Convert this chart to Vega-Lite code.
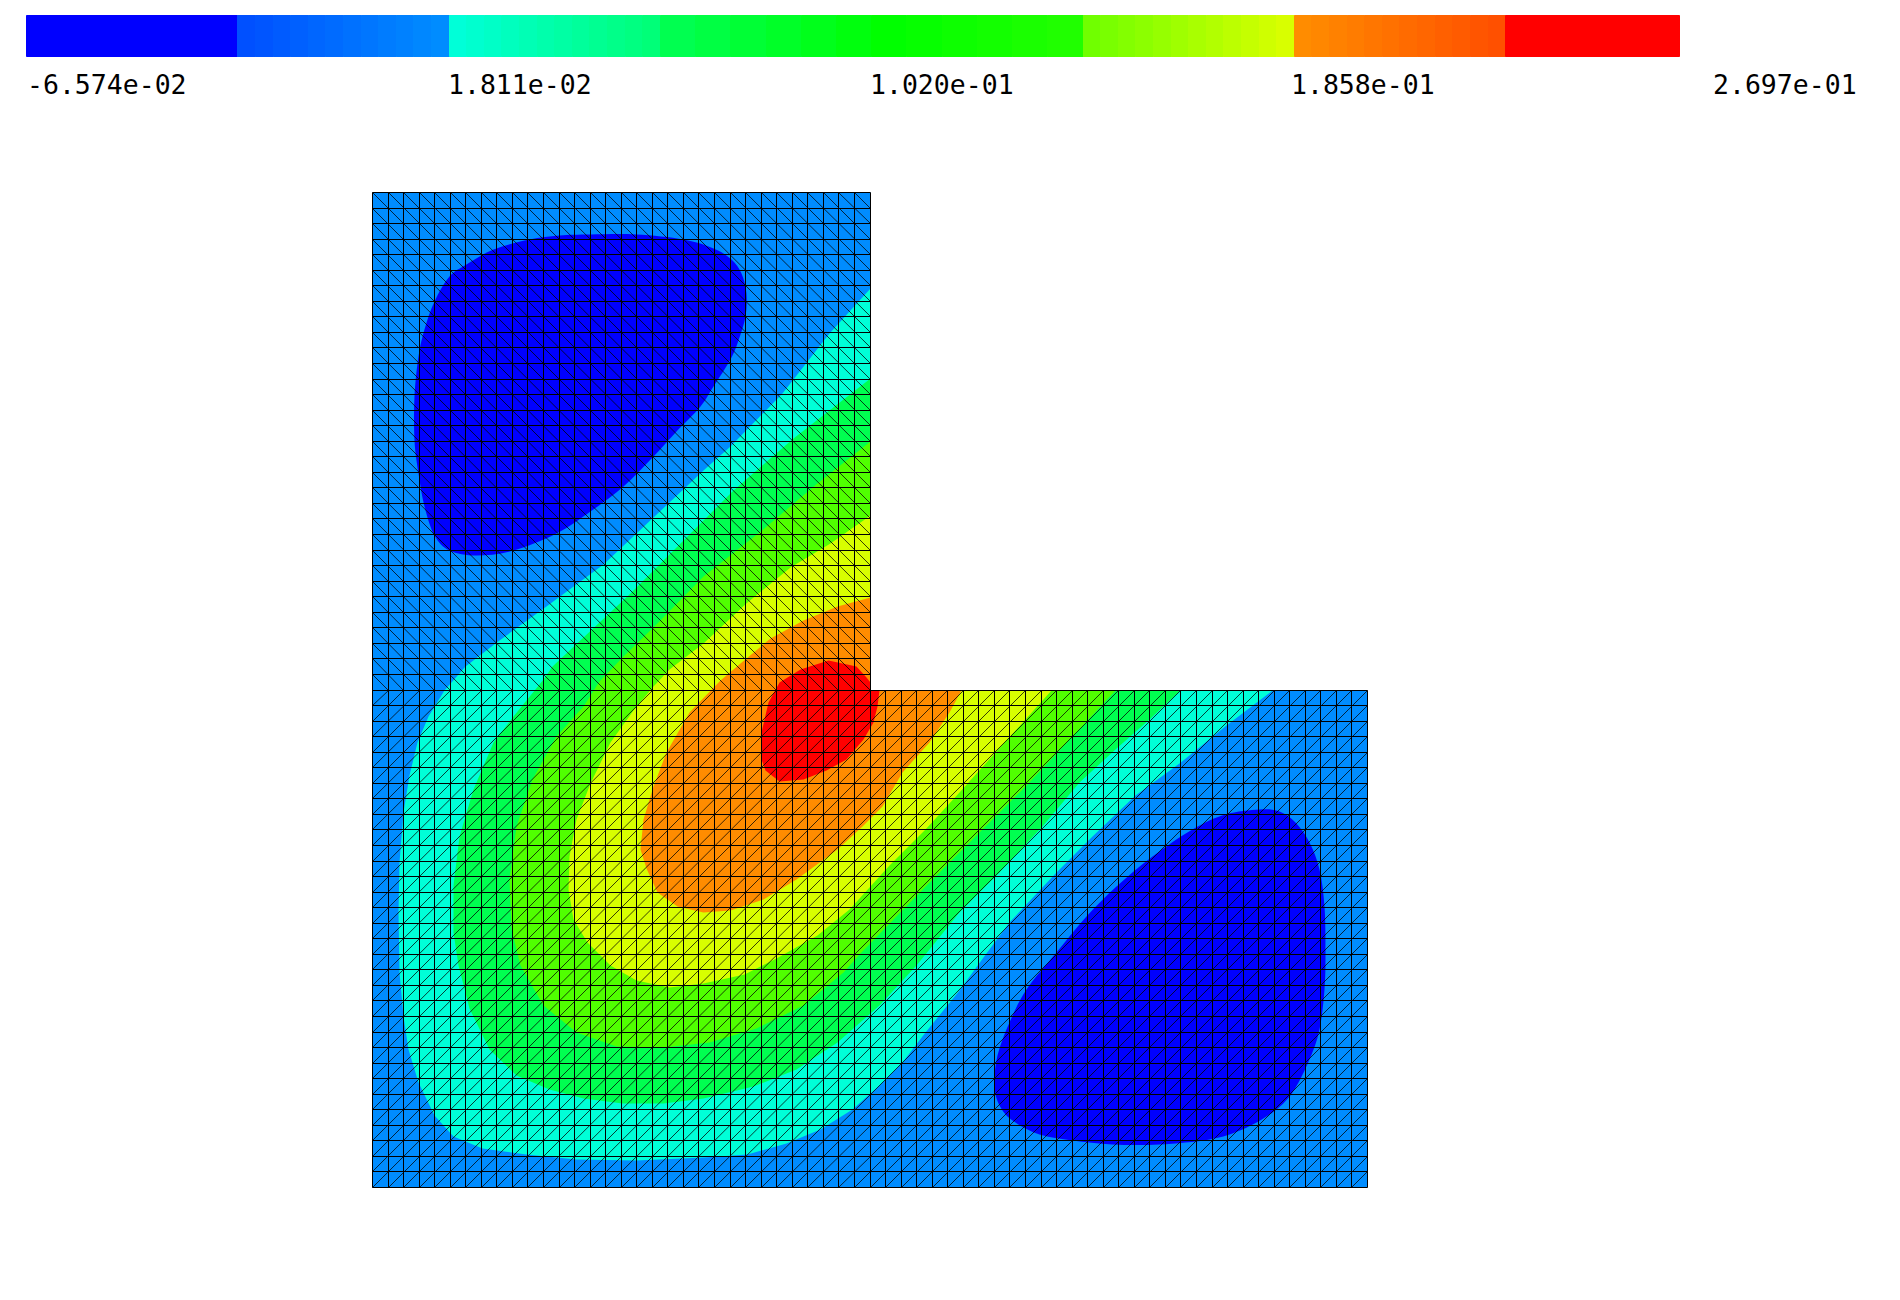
{"$schema":"https://vega.github.io/schema/vega-lite/v6.json","background":"white","padding":{"left":25.5,"top":14.5,"right":0,"bottom":0},"config":{"view":{"stroke":null}},"spacing":92,"resolve":{"scale":{"fill":"independent"}},
"datasets":{
"bar":[{"lo":-0.06574,"hi":-0.0237},{"lo":-0.0237,"hi":-0.0202},{"lo":-0.0202,"hi":-0.01669},{"lo":-0.01669,"hi":-0.01319},{"lo":-0.01319,"hi":-0.00969},{"lo":-0.00969,"hi":-0.00618},{"lo":-0.00618,"hi":-0.00268},{"lo":-0.00268,"hi":0.00082},{"lo":0.00082,"hi":0.00433},{"lo":0.00433,"hi":0.00783},{"lo":0.00783,"hi":0.01133},{"lo":0.01133,"hi":0.01484},{"lo":0.01484,"hi":0.01834},{"lo":0.01834,"hi":0.02184},{"lo":0.02184,"hi":0.02535},{"lo":0.02535,"hi":0.02885},{"lo":0.02885,"hi":0.03235},{"lo":0.03235,"hi":0.03586},{"lo":0.03586,"hi":0.03936},{"lo":0.03936,"hi":0.04286},{"lo":0.04286,"hi":0.04637},{"lo":0.04637,"hi":0.04987},{"lo":0.04987,"hi":0.05337},{"lo":0.05337,"hi":0.05688},{"lo":0.05688,"hi":0.06038},{"lo":0.06038,"hi":0.06739},{"lo":0.06739,"hi":0.0744},{"lo":0.0744,"hi":0.0814},{"lo":0.0814,"hi":0.08841},{"lo":0.08841,"hi":0.09541},{"lo":0.09541,"hi":0.10242},{"lo":0.10242,"hi":0.10943},{"lo":0.10943,"hi":0.11644},{"lo":0.11644,"hi":0.12344},{"lo":0.12344,"hi":0.13045},{"lo":0.13045,"hi":0.13745},{"lo":0.13745,"hi":0.14446},{"lo":0.14446,"hi":0.14796},{"lo":0.14796,"hi":0.15147},{"lo":0.15147,"hi":0.15497},{"lo":0.15497,"hi":0.15847},{"lo":0.15847,"hi":0.16198},{"lo":0.16198,"hi":0.16548},{"lo":0.16548,"hi":0.16898},{"lo":0.16898,"hi":0.17249},{"lo":0.17249,"hi":0.17599},{"lo":0.17599,"hi":0.17949},{"lo":0.17949,"hi":0.183},{"lo":0.183,"hi":0.1865},{"lo":0.1865,"hi":0.19},{"lo":0.19,"hi":0.19351},{"lo":0.19351,"hi":0.19701},{"lo":0.19701,"hi":0.20051},{"lo":0.20051,"hi":0.20402},{"lo":0.20402,"hi":0.20752},{"lo":0.20752,"hi":0.21102},{"lo":0.21102,"hi":0.21453},{"lo":0.21453,"hi":0.21803},{"lo":0.21803,"hi":0.22153},{"lo":0.22153,"hi":0.22504},{"lo":0.22504,"hi":0.22854},{"lo":0.22854,"hi":0.2631}],
"bands":[
{"r":"blue","o":1,"x":0,"y":0},{"r":"blue","o":2,"x":32,"y":0},{"r":"blue","o":3,"x":32,"y":32},{"r":"blue","o":4,"x":64,"y":32},{"r":"blue","o":5,"x":64,"y":64},{"r":"blue","o":6,"x":0,"y":64},
{"r":"cyan","o":1,"x":32,"y":6.2},{"r":"cyan","o":2,"x":29.4,"y":9.05},{"r":"cyan","o":3,"x":26.4,"y":12.9},{"r":"cyan","o":4,"x":23,"y":16.35},{"r":"cyan","o":5,"x":21.3,"y":17.85},{"r":"cyan","o":6,"x":18.1,"y":20.9},{"r":"cyan","o":7,"x":14.85,"y":23.9},{"r":"cyan","o":8,"x":11.2,"y":26.6},{"r":"cyan","o":9,"x":8.2,"y":28.8},{"r":"cyan","o":10,"x":6,"y":30.5},{"r":"cyan","o":11,"x":4.6,"y":32},{"r":"cyan","o":12,"x":3.6,"y":33.7},{"r":"cyan","o":13,"x":2.9,"y":35.4},{"r":"cyan","o":14,"x":2.4,"y":37.5},{"r":"cyan","o":15,"x":1.97,"y":39.9},{"r":"cyan","o":16,"x":1.76,"y":43.1},{"r":"cyan","o":17,"x":1.7,"y":46.3},{"r":"cyan","o":18,"x":1.76,"y":50.2},{"r":"cyan","o":19,"x":1.97,"y":52.97},{"r":"cyan","o":20,"x":2.3,"y":55.1},{"r":"cyan","o":21,"x":2.94,"y":57.25},{"r":"cyan","o":22,"x":4,"y":59.4},{"r":"cyan","o":23,"x":5.2,"y":60.7},{"r":"cyan","o":24,"x":7.1,"y":61.5},{"r":"cyan","o":25,"x":9.9,"y":61.85},{"r":"cyan","o":26,"x":13.1,"y":62.2},{"r":"cyan","o":27,"x":17,"y":62.25},{"r":"cyan","o":28,"x":21.3,"y":62.07},{"r":"cyan","o":29,"x":24.1,"y":61.85},{"r":"cyan","o":30,"x":26.65,"y":61.2},{"r":"cyan","o":31,"x":28.8,"y":60.25},{"r":"cyan","o":32,"x":30.9,"y":58.96},{"r":"cyan","o":33,"x":32.6,"y":57.46},{"r":"cyan","o":34,"x":34.1,"y":55.97},{"r":"cyan","o":35,"x":35.6,"y":54},{"r":"cyan","o":36,"x":37.75,"y":51.3},{"r":"cyan","o":37,"x":39.3,"y":49.2},{"r":"cyan","o":38,"x":40.97,"y":46.97},{"r":"cyan","o":39,"x":43.97,"y":43.75},{"r":"cyan","o":40,"x":46.3,"y":41.4},{"r":"cyan","o":41,"x":49.1,"y":38.8},{"r":"cyan","o":42,"x":51.9,"y":36.7},{"r":"cyan","o":43,"x":54.9,"y":34.3},{"r":"cyan","o":44,"x":57.9,"y":32},{"r":"cyan","o":45,"x":32,"y":32},
{"r":"spring","o":1,"x":32,"y":11.95},{"r":"spring","o":2,"x":27.1,"y":15.8},{"r":"spring","o":3,"x":23.2,"y":19.15},{"r":"spring","o":4,"x":21.3,"y":21.1},{"r":"spring","o":5,"x":16.6,"y":25.8},{"r":"spring","o":6,"x":13.6,"y":28.6},{"r":"spring","o":7,"x":11.6,"y":30.5},{"r":"spring","o":8,"x":11,"y":31.33},{"r":"spring","o":9,"x":9.05,"y":33.7},{"r":"spring","o":10,"x":7.77,"y":35.4},{"r":"spring","o":11,"x":6.5,"y":38.4},{"r":"spring","o":12,"x":5.6,"y":41.4},{"r":"spring","o":13,"x":5.2,"y":44.6},{"r":"spring","o":14,"x":5.2,"y":47.6},{"r":"spring","o":15,"x":5.5,"y":49.75},{"r":"spring","o":16,"x":6.27,"y":52.5},{"r":"spring","o":17,"x":7.55,"y":55.1},{"r":"spring","o":18,"x":9.27,"y":56.8},{"r":"spring","o":19,"x":11.4,"y":57.7},{"r":"spring","o":20,"x":13.56,"y":58.3},{"r":"spring","o":21,"x":16.1,"y":58.6},{"r":"spring","o":22,"x":18.7,"y":58.6},{"r":"spring","o":23,"x":21.3,"y":58.3},{"r":"spring","o":24,"x":24.5,"y":57.5},{"r":"spring","o":25,"x":27.3,"y":56.4},{"r":"spring","o":26,"x":29.9,"y":54.7},{"r":"spring","o":27,"x":32.6,"y":52.3},{"r":"spring","o":28,"x":34.97,"y":49.75},{"r":"spring","o":29,"x":37.76,"y":46.3},{"r":"spring","o":30,"x":40.3,"y":43.75},{"r":"spring","o":31,"x":43.1,"y":40.76},{"r":"spring","o":32,"x":45.5,"y":37.97},{"r":"spring","o":33,"x":47.8,"y":35.8},{"r":"spring","o":34,"x":50,"y":33.9},{"r":"spring","o":35,"x":52,"y":32},{"r":"spring","o":36,"x":32,"y":32},
{"r":"lime","o":1,"x":32,"y":16},{"r":"lime","o":2,"x":28.6,"y":18.7},{"r":"lime","o":3,"x":24.9,"y":21.9},{"r":"lime","o":4,"x":21.3,"y":24.7},{"r":"lime","o":5,"x":18.3,"y":27.7},{"r":"lime","o":6,"x":16.1,"y":29.9},{"r":"lime","o":7,"x":14.6,"y":31.45},{"r":"lime","o":8,"x":13.56,"y":33.04},{"r":"lime","o":9,"x":11.85,"y":34.97},{"r":"lime","o":10,"x":10.3,"y":37.76},{"r":"lime","o":11,"x":9.27,"y":40.76},{"r":"lime","o":12,"x":8.84,"y":44.2},{"r":"lime","o":13,"x":8.95,"y":47.4},{"r":"lime","o":14,"x":9.5,"y":49.75},{"r":"lime","o":15,"x":11,"y":52.3},{"r":"lime","o":16,"x":13.1,"y":54},{"r":"lime","o":17,"x":15.7,"y":54.9},{"r":"lime","o":18,"x":18.7,"y":55},{"r":"lime","o":19,"x":21.7,"y":54.7},{"r":"lime","o":20,"x":24.7,"y":53.8},{"r":"lime","o":21,"x":27.7,"y":52.3},{"r":"lime","o":22,"x":30.3,"y":50.2},{"r":"lime","o":23,"x":31.33,"y":49},{"r":"lime","o":24,"x":33.5,"y":46.75},{"r":"lime","o":25,"x":36,"y":44.2},{"r":"lime","o":26,"x":38.8,"y":41.4},{"r":"lime","o":27,"x":42,"y":38.2},{"r":"lime","o":28,"x":45,"y":35},{"r":"lime","o":29,"x":47.8,"y":32},{"r":"lime","o":30,"x":32,"y":32},
{"r":"yellow","o":1,"x":32,"y":20.75},{"r":"yellow","o":2,"x":29.45,"y":22.6},{"r":"yellow","o":3,"x":26.9,"y":24.1},{"r":"yellow","o":4,"x":24.1,"y":26.4},{"r":"yellow","o":5,"x":21.3,"y":29},{"r":"yellow","o":6,"x":19.1,"y":30.7},{"r":"yellow","o":7,"x":18.07,"y":31.76},{"r":"yellow","o":8,"x":16.8,"y":33.3},{"r":"yellow","o":9,"x":15.3,"y":35.4},{"r":"yellow","o":10,"x":14,"y":38},{"r":"yellow","o":11,"x":13.1,"y":40.3},{"r":"yellow","o":12,"x":12.7,"y":42.7},{"r":"yellow","o":13,"x":12.6,"y":44.8},{"r":"yellow","o":14,"x":12.9,"y":46.75},{"r":"yellow","o":15,"x":13.8,"y":48.25},{"r":"yellow","o":16,"x":15.3,"y":49.75},{"r":"yellow","o":17,"x":17,"y":50.7},{"r":"yellow","o":18,"x":19.1,"y":51.15},{"r":"yellow","o":19,"x":21.3,"y":50.9},{"r":"yellow","o":20,"x":23.9,"y":50.3},{"r":"yellow","o":21,"x":26,"y":49.3},{"r":"yellow","o":22,"x":28.6,"y":47.8},{"r":"yellow","o":23,"x":30.7,"y":46.1},{"r":"yellow","o":24,"x":33.26,"y":43.3},{"r":"yellow","o":25,"x":35.6,"y":41},{"r":"yellow","o":26,"x":37.75,"y":38.6},{"r":"yellow","o":27,"x":40.1,"y":36.05},{"r":"yellow","o":28,"x":42,"y":33.9},{"r":"yellow","o":29,"x":43.65,"y":32},{"r":"yellow","o":30,"x":32,"y":32},
{"r":"orange","o":1,"x":32,"y":26.05},{"r":"orange","o":2,"x":29.9,"y":26.65},{"r":"orange","o":3,"x":27.7,"y":27.5},{"r":"orange","o":4,"x":25.6,"y":28.7},{"r":"orange","o":5,"x":23.65,"y":30.3},{"r":"orange","o":6,"x":22.4,"y":31.4},{"r":"orange","o":7,"x":20.4,"y":33.47},{"r":"orange","o":8,"x":18.9,"y":36},{"r":"orange","o":9,"x":18.07,"y":38.2},{"r":"orange","o":10,"x":17.4,"y":40.3},{"r":"orange","o":11,"x":17.25,"y":42.25},{"r":"orange","o":12,"x":17.6,"y":43.5},{"r":"orange","o":13,"x":18.3,"y":45},{"r":"orange","o":14,"x":19.6,"y":45.9},{"r":"orange","o":15,"x":21.3,"y":46.3},{"r":"orange","o":16,"x":23,"y":46.2},{"r":"orange","o":17,"x":25.15,"y":45.5},{"r":"orange","o":18,"x":27.3,"y":44.2},{"r":"orange","o":19,"x":29.9,"y":42.25},{"r":"orange","o":20,"x":31.5,"y":40.8},{"r":"orange","o":21,"x":32.83,"y":39.47},{"r":"orange","o":22,"x":34.1,"y":37.33},{"r":"orange","o":23,"x":35.8,"y":35.4},{"r":"orange","o":24,"x":37.1,"y":33.47},{"r":"orange","o":25,"x":37.86,"y":32},{"r":"orange","o":26,"x":32,"y":32},
{"r":"red","o":1,"x":29.3,"y":30.1},{"r":"red","o":2,"x":31.1,"y":30.47},{"r":"red","o":3,"x":31.76,"y":31.2},{"r":"red","o":4,"x":32,"y":31.5},{"r":"red","o":5,"x":32,"y":32},{"r":"red","o":6,"x":32.6,"y":32},{"r":"red","o":7,"x":32.5,"y":33.04},{"r":"red","o":8,"x":32.2,"y":34.1},{"r":"red","o":9,"x":31.55,"y":35.2},{"r":"red","o":10,"x":30.5,"y":36.5},{"r":"red","o":11,"x":29.2,"y":37.2},{"r":"red","o":12,"x":27.7,"y":37.75},{"r":"red","o":13,"x":26.2,"y":37.9},{"r":"red","o":14,"x":25.3,"y":37.2},{"r":"red","o":15,"x":25,"y":36.5},{"r":"red","o":16,"x":25,"y":34.75},{"r":"red","o":17,"x":25.45,"y":32.8},{"r":"red","o":18,"x":26.2,"y":31.5},{"r":"red","o":19,"x":27.5,"y":30.7}
],
"blobs":[
{"r":"a","o":1,"x":13.99,"y":2.68},{"r":"a","o":2,"x":17,"y":2.73},{"r":"a","o":3,"x":20,"y":3.05},{"r":"a","o":4,"x":21.93,"y":3.58},{"r":"a","o":5,"x":23.1,"y":4.33},{"r":"a","o":6,"x":23.76,"y":5.19},{"r":"a","o":7,"x":24.08,"y":6.48},{"r":"a","o":8,"x":23.97,"y":7.98},{"r":"a","o":9,"x":23.54,"y":9.49},{"r":"a","o":10,"x":23,"y":10.77},{"r":"a","o":11,"x":21.93,"y":12.49},{"r":"a","o":12,"x":21.07,"y":13.78},{"r":"a","o":13,"x":19.57,"y":15.39},{"r":"a","o":14,"x":18.07,"y":17},{"r":"a","o":15,"x":16.14,"y":18.93},{"r":"a","o":16,"x":13.99,"y":20.54},{"r":"a","o":17,"x":11.85,"y":21.93},{"r":"a","o":18,"x":9.06,"y":23},{"r":"a","o":19,"x":6.7,"y":23.33},{"r":"a","o":20,"x":4.98,"y":23},{"r":"a","o":21,"x":4.01,"y":22.04},{"r":"a","o":22,"x":3.37,"y":20.21},{"r":"a","o":23,"x":2.94,"y":18.07},{"r":"a","o":24,"x":2.73,"y":15.92},{"r":"a","o":25,"x":2.73,"y":13.13},{"r":"a","o":26,"x":2.94,"y":10.56},{"r":"a","o":27,"x":3.37,"y":8.84},{"r":"a","o":28,"x":4.01,"y":7.02},{"r":"a","o":29,"x":4.98,"y":5.41},{"r":"a","o":30,"x":6.05,"y":4.66},{"r":"a","o":31,"x":7.77,"y":3.69},{"r":"a","o":32,"x":10.13,"y":3.05},{"r":"a","o":33,"x":12.06,"y":2.79},
{"r":"b","o":1,"x":57.04,"y":39.68},{"r":"b","o":2,"x":58.32,"y":39.79},{"r":"b","o":3,"x":59.39,"y":40.54},{"r":"b","o":4,"x":60.25,"y":41.83},{"r":"b","o":5,"x":60.89,"y":43.54},{"r":"b","o":6,"x":61.21,"y":45.9},{"r":"b","o":7,"x":61.32,"y":48.9},{"r":"b","o":8,"x":61.21,"y":51.25},{"r":"b","o":9,"x":60.89,"y":53.82},{"r":"b","o":10,"x":60.25,"y":55.75},{"r":"b","o":11,"x":59.18,"y":57.89},{"r":"b","o":12,"x":57.89,"y":59.18},{"r":"b","o":13,"x":55.97,"y":60.25},{"r":"b","o":14,"x":53.82,"y":60.89},{"r":"b","o":15,"x":50.61,"y":61.21},{"r":"b","o":16,"x":47.61,"y":61.26},{"r":"b","o":17,"x":45.04,"y":61},{"r":"b","o":18,"x":42.9,"y":60.57},{"r":"b","o":19,"x":41.18,"y":59.71},{"r":"b","o":20,"x":40.33,"y":58.75},{"r":"b","o":21,"x":40,"y":57.46},{"r":"b","o":22,"x":40.22,"y":55.54},{"r":"b","o":23,"x":40.97,"y":53.4},{"r":"b","o":24,"x":42.04,"y":51.25},{"r":"b","o":25,"x":43.97,"y":48.9},{"r":"b","o":26,"x":45.9,"y":46.54},{"r":"b","o":27,"x":47.83,"y":44.61},{"r":"b","o":28,"x":50.18,"y":42.68},{"r":"b","o":29,"x":52.75,"y":40.97},{"r":"b","o":30,"x":54.89,"y":40.01}
],
"grid":[
{"a":0,"b":0,"c":32,"d":0},{"a":0,"b":1,"c":32,"d":1},{"a":0,"b":2,"c":32,"d":2},{"a":0,"b":3,"c":32,"d":3},{"a":0,"b":4,"c":32,"d":4},{"a":0,"b":5,"c":32,"d":5},{"a":0,"b":6,"c":32,"d":6},{"a":0,"b":7,"c":32,"d":7},{"a":0,"b":8,"c":32,"d":8},{"a":0,"b":9,"c":32,"d":9},{"a":0,"b":10,"c":32,"d":10},{"a":0,"b":11,"c":32,"d":11},{"a":0,"b":12,"c":32,"d":12},{"a":0,"b":13,"c":32,"d":13},{"a":0,"b":14,"c":32,"d":14},{"a":0,"b":15,"c":32,"d":15},{"a":0,"b":16,"c":32,"d":16},{"a":0,"b":17,"c":32,"d":17},{"a":0,"b":18,"c":32,"d":18},{"a":0,"b":19,"c":32,"d":19},{"a":0,"b":20,"c":32,"d":20},{"a":0,"b":21,"c":32,"d":21},{"a":0,"b":22,"c":32,"d":22},{"a":0,"b":23,"c":32,"d":23},{"a":0,"b":24,"c":32,"d":24},{"a":0,"b":25,"c":32,"d":25},{"a":0,"b":26,"c":32,"d":26},{"a":0,"b":27,"c":32,"d":27},{"a":0,"b":28,"c":32,"d":28},{"a":0,"b":29,"c":32,"d":29},{"a":0,"b":30,"c":32,"d":30},{"a":0,"b":31,"c":32,"d":31},
{"a":0,"b":32,"c":64,"d":32},{"a":0,"b":33,"c":64,"d":33},{"a":0,"b":34,"c":64,"d":34},{"a":0,"b":35,"c":64,"d":35},{"a":0,"b":36,"c":64,"d":36},{"a":0,"b":37,"c":64,"d":37},{"a":0,"b":38,"c":64,"d":38},{"a":0,"b":39,"c":64,"d":39},{"a":0,"b":40,"c":64,"d":40},{"a":0,"b":41,"c":64,"d":41},{"a":0,"b":42,"c":64,"d":42},{"a":0,"b":43,"c":64,"d":43},{"a":0,"b":44,"c":64,"d":44},{"a":0,"b":45,"c":64,"d":45},{"a":0,"b":46,"c":64,"d":46},{"a":0,"b":47,"c":64,"d":47},{"a":0,"b":48,"c":64,"d":48},{"a":0,"b":49,"c":64,"d":49},{"a":0,"b":50,"c":64,"d":50},{"a":0,"b":51,"c":64,"d":51},{"a":0,"b":52,"c":64,"d":52},{"a":0,"b":53,"c":64,"d":53},{"a":0,"b":54,"c":64,"d":54},{"a":0,"b":55,"c":64,"d":55},{"a":0,"b":56,"c":64,"d":56},{"a":0,"b":57,"c":64,"d":57},{"a":0,"b":58,"c":64,"d":58},{"a":0,"b":59,"c":64,"d":59},{"a":0,"b":60,"c":64,"d":60},{"a":0,"b":61,"c":64,"d":61},{"a":0,"b":62,"c":64,"d":62},{"a":0,"b":63,"c":64,"d":63},{"a":0,"b":64,"c":64,"d":64},
{"a":0,"b":0,"c":0,"d":64},{"a":1,"b":0,"c":1,"d":64},{"a":2,"b":0,"c":2,"d":64},{"a":3,"b":0,"c":3,"d":64},{"a":4,"b":0,"c":4,"d":64},{"a":5,"b":0,"c":5,"d":64},{"a":6,"b":0,"c":6,"d":64},{"a":7,"b":0,"c":7,"d":64},{"a":8,"b":0,"c":8,"d":64},{"a":9,"b":0,"c":9,"d":64},{"a":10,"b":0,"c":10,"d":64},{"a":11,"b":0,"c":11,"d":64},{"a":12,"b":0,"c":12,"d":64},{"a":13,"b":0,"c":13,"d":64},{"a":14,"b":0,"c":14,"d":64},{"a":15,"b":0,"c":15,"d":64},{"a":16,"b":0,"c":16,"d":64},{"a":17,"b":0,"c":17,"d":64},{"a":18,"b":0,"c":18,"d":64},{"a":19,"b":0,"c":19,"d":64},{"a":20,"b":0,"c":20,"d":64},{"a":21,"b":0,"c":21,"d":64},{"a":22,"b":0,"c":22,"d":64},{"a":23,"b":0,"c":23,"d":64},{"a":24,"b":0,"c":24,"d":64},{"a":25,"b":0,"c":25,"d":64},{"a":26,"b":0,"c":26,"d":64},{"a":27,"b":0,"c":27,"d":64},{"a":28,"b":0,"c":28,"d":64},{"a":29,"b":0,"c":29,"d":64},{"a":30,"b":0,"c":30,"d":64},{"a":31,"b":0,"c":31,"d":64},{"a":32,"b":0,"c":32,"d":64},
{"a":33,"b":32,"c":33,"d":64},{"a":34,"b":32,"c":34,"d":64},{"a":35,"b":32,"c":35,"d":64},{"a":36,"b":32,"c":36,"d":64},{"a":37,"b":32,"c":37,"d":64},{"a":38,"b":32,"c":38,"d":64},{"a":39,"b":32,"c":39,"d":64},{"a":40,"b":32,"c":40,"d":64},{"a":41,"b":32,"c":41,"d":64},{"a":42,"b":32,"c":42,"d":64},{"a":43,"b":32,"c":43,"d":64},{"a":44,"b":32,"c":44,"d":64},{"a":45,"b":32,"c":45,"d":64},{"a":46,"b":32,"c":46,"d":64},{"a":47,"b":32,"c":47,"d":64},{"a":48,"b":32,"c":48,"d":64},{"a":49,"b":32,"c":49,"d":64},{"a":50,"b":32,"c":50,"d":64},{"a":51,"b":32,"c":51,"d":64},{"a":52,"b":32,"c":52,"d":64},{"a":53,"b":32,"c":53,"d":64},{"a":54,"b":32,"c":54,"d":64},{"a":55,"b":32,"c":55,"d":64},{"a":56,"b":32,"c":56,"d":64},{"a":57,"b":32,"c":57,"d":64},{"a":58,"b":32,"c":58,"d":64},{"a":59,"b":32,"c":59,"d":64},{"a":60,"b":32,"c":60,"d":64},{"a":61,"b":32,"c":61,"d":64},{"a":62,"b":32,"c":62,"d":64},{"a":63,"b":32,"c":63,"d":64},{"a":64,"b":32,"c":64,"d":64}],
"diag":[
{"a":0,"b":0,"c":32,"d":32},{"a":1,"b":0,"c":32,"d":31},{"a":2,"b":0,"c":32,"d":30},{"a":3,"b":0,"c":32,"d":29},{"a":4,"b":0,"c":32,"d":28},{"a":5,"b":0,"c":32,"d":27},{"a":6,"b":0,"c":32,"d":26},{"a":7,"b":0,"c":32,"d":25},{"a":8,"b":0,"c":32,"d":24},{"a":9,"b":0,"c":32,"d":23},{"a":10,"b":0,"c":32,"d":22},{"a":11,"b":0,"c":32,"d":21},{"a":12,"b":0,"c":32,"d":20},{"a":13,"b":0,"c":32,"d":19},{"a":14,"b":0,"c":32,"d":18},{"a":15,"b":0,"c":32,"d":17},{"a":16,"b":0,"c":32,"d":16},{"a":17,"b":0,"c":32,"d":15},{"a":18,"b":0,"c":32,"d":14},{"a":19,"b":0,"c":32,"d":13},{"a":20,"b":0,"c":32,"d":12},{"a":21,"b":0,"c":32,"d":11},{"a":22,"b":0,"c":32,"d":10},{"a":23,"b":0,"c":32,"d":9},{"a":24,"b":0,"c":32,"d":8},{"a":25,"b":0,"c":32,"d":7},{"a":26,"b":0,"c":32,"d":6},{"a":27,"b":0,"c":32,"d":5},{"a":28,"b":0,"c":32,"d":4},{"a":29,"b":0,"c":32,"d":3},{"a":30,"b":0,"c":32,"d":2},{"a":31,"b":0,"c":32,"d":1},
{"a":0,"b":1,"c":31,"d":32},{"a":0,"b":2,"c":30,"d":32},{"a":0,"b":3,"c":29,"d":32},{"a":0,"b":4,"c":28,"d":32},{"a":0,"b":5,"c":27,"d":32},{"a":0,"b":6,"c":26,"d":32},{"a":0,"b":7,"c":25,"d":32},{"a":0,"b":8,"c":24,"d":32},{"a":0,"b":9,"c":23,"d":32},{"a":0,"b":10,"c":22,"d":32},{"a":0,"b":11,"c":21,"d":32},{"a":0,"b":12,"c":20,"d":32},{"a":0,"b":13,"c":19,"d":32},{"a":0,"b":14,"c":18,"d":32},{"a":0,"b":15,"c":17,"d":32},{"a":0,"b":16,"c":16,"d":32},{"a":0,"b":17,"c":15,"d":32},{"a":0,"b":18,"c":14,"d":32},{"a":0,"b":19,"c":13,"d":32},{"a":0,"b":20,"c":12,"d":32},{"a":0,"b":21,"c":11,"d":32},{"a":0,"b":22,"c":10,"d":32},{"a":0,"b":23,"c":9,"d":32},{"a":0,"b":24,"c":8,"d":32},{"a":0,"b":25,"c":7,"d":32},{"a":0,"b":26,"c":6,"d":32},{"a":0,"b":27,"c":5,"d":32},{"a":0,"b":28,"c":4,"d":32},{"a":0,"b":29,"c":3,"d":32},{"a":0,"b":30,"c":2,"d":32},{"a":0,"b":31,"c":1,"d":32},
{"a":0,"b":33,"c":1,"d":32},{"a":0,"b":34,"c":2,"d":32},{"a":0,"b":35,"c":3,"d":32},{"a":0,"b":36,"c":4,"d":32},{"a":0,"b":37,"c":5,"d":32},{"a":0,"b":38,"c":6,"d":32},{"a":0,"b":39,"c":7,"d":32},{"a":0,"b":40,"c":8,"d":32},{"a":0,"b":41,"c":9,"d":32},{"a":0,"b":42,"c":10,"d":32},{"a":0,"b":43,"c":11,"d":32},{"a":0,"b":44,"c":12,"d":32},{"a":0,"b":45,"c":13,"d":32},{"a":0,"b":46,"c":14,"d":32},{"a":0,"b":47,"c":15,"d":32},{"a":0,"b":48,"c":16,"d":32},{"a":0,"b":49,"c":17,"d":32},{"a":0,"b":50,"c":18,"d":32},{"a":0,"b":51,"c":19,"d":32},{"a":0,"b":52,"c":20,"d":32},{"a":0,"b":53,"c":21,"d":32},{"a":0,"b":54,"c":22,"d":32},{"a":0,"b":55,"c":23,"d":32},{"a":0,"b":56,"c":24,"d":32},{"a":0,"b":57,"c":25,"d":32},{"a":0,"b":58,"c":26,"d":32},{"a":0,"b":59,"c":27,"d":32},{"a":0,"b":60,"c":28,"d":32},{"a":0,"b":61,"c":29,"d":32},{"a":0,"b":62,"c":30,"d":32},{"a":0,"b":63,"c":31,"d":32},{"a":0,"b":64,"c":32,"d":32},
{"a":1,"b":64,"c":32,"d":33},{"a":2,"b":64,"c":32,"d":34},{"a":3,"b":64,"c":32,"d":35},{"a":4,"b":64,"c":32,"d":36},{"a":5,"b":64,"c":32,"d":37},{"a":6,"b":64,"c":32,"d":38},{"a":7,"b":64,"c":32,"d":39},{"a":8,"b":64,"c":32,"d":40},{"a":9,"b":64,"c":32,"d":41},{"a":10,"b":64,"c":32,"d":42},{"a":11,"b":64,"c":32,"d":43},{"a":12,"b":64,"c":32,"d":44},{"a":13,"b":64,"c":32,"d":45},{"a":14,"b":64,"c":32,"d":46},{"a":15,"b":64,"c":32,"d":47},{"a":16,"b":64,"c":32,"d":48},{"a":17,"b":64,"c":32,"d":49},{"a":18,"b":64,"c":32,"d":50},{"a":19,"b":64,"c":32,"d":51},{"a":20,"b":64,"c":32,"d":52},{"a":21,"b":64,"c":32,"d":53},{"a":22,"b":64,"c":32,"d":54},{"a":23,"b":64,"c":32,"d":55},{"a":24,"b":64,"c":32,"d":56},{"a":25,"b":64,"c":32,"d":57},{"a":26,"b":64,"c":32,"d":58},{"a":27,"b":64,"c":32,"d":59},{"a":28,"b":64,"c":32,"d":60},{"a":29,"b":64,"c":32,"d":61},{"a":30,"b":64,"c":32,"d":62},{"a":31,"b":64,"c":32,"d":63},
{"a":32,"b":33,"c":33,"d":32},{"a":32,"b":34,"c":34,"d":32},{"a":32,"b":35,"c":35,"d":32},{"a":32,"b":36,"c":36,"d":32},{"a":32,"b":37,"c":37,"d":32},{"a":32,"b":38,"c":38,"d":32},{"a":32,"b":39,"c":39,"d":32},{"a":32,"b":40,"c":40,"d":32},{"a":32,"b":41,"c":41,"d":32},{"a":32,"b":42,"c":42,"d":32},{"a":32,"b":43,"c":43,"d":32},{"a":32,"b":44,"c":44,"d":32},{"a":32,"b":45,"c":45,"d":32},{"a":32,"b":46,"c":46,"d":32},{"a":32,"b":47,"c":47,"d":32},{"a":32,"b":48,"c":48,"d":32},{"a":32,"b":49,"c":49,"d":32},{"a":32,"b":50,"c":50,"d":32},{"a":32,"b":51,"c":51,"d":32},{"a":32,"b":52,"c":52,"d":32},{"a":32,"b":53,"c":53,"d":32},{"a":32,"b":54,"c":54,"d":32},{"a":32,"b":55,"c":55,"d":32},{"a":32,"b":56,"c":56,"d":32},{"a":32,"b":57,"c":57,"d":32},{"a":32,"b":58,"c":58,"d":32},{"a":32,"b":59,"c":59,"d":32},{"a":32,"b":60,"c":60,"d":32},{"a":32,"b":61,"c":61,"d":32},{"a":32,"b":62,"c":62,"d":32},{"a":32,"b":63,"c":63,"d":32},{"a":32,"b":64,"c":64,"d":32},
{"a":33,"b":64,"c":64,"d":33},{"a":34,"b":64,"c":64,"d":34},{"a":35,"b":64,"c":64,"d":35},{"a":36,"b":64,"c":64,"d":36},{"a":37,"b":64,"c":64,"d":37},{"a":38,"b":64,"c":64,"d":38},{"a":39,"b":64,"c":64,"d":39},{"a":40,"b":64,"c":64,"d":40},{"a":41,"b":64,"c":64,"d":41},{"a":42,"b":64,"c":64,"d":42},{"a":43,"b":64,"c":64,"d":43},{"a":44,"b":64,"c":64,"d":44},{"a":45,"b":64,"c":64,"d":45},{"a":46,"b":64,"c":64,"d":46},{"a":47,"b":64,"c":64,"d":47},{"a":48,"b":64,"c":64,"d":48},{"a":49,"b":64,"c":64,"d":49},{"a":50,"b":64,"c":64,"d":50},{"a":51,"b":64,"c":64,"d":51},{"a":52,"b":64,"c":64,"d":52},{"a":53,"b":64,"c":64,"d":53},{"a":54,"b":64,"c":64,"d":54},{"a":55,"b":64,"c":64,"d":55},{"a":56,"b":64,"c":64,"d":56},{"a":57,"b":64,"c":64,"d":57},{"a":58,"b":64,"c":64,"d":58},{"a":59,"b":64,"c":64,"d":59},{"a":60,"b":64,"c":64,"d":60},{"a":61,"b":64,"c":64,"d":61},{"a":62,"b":64,"c":64,"d":62},{"a":63,"b":64,"c":64,"d":63}
]},
"vconcat":[
{"width":1686,"height":41,"data":{"name":"bar"},"mark":{"type":"rect","strokeWidth":1},
"encoding":{
"x":{"field":"lo","type":"quantitative","scale":{"domain":[-0.06574,0.2697],"nice":false,"zero":false,"round":true},
"axis":{"title":null,"orient":"bottom","values":[-0.06574,0.01811,0.102,0.1858,0.2697],"labelExpr":"replace(replace(format(datum.value,'.3e'),'e-','e-0'),'\u2212','-')","grid":false,"domain":false,"ticks":false,"labelFont":"DejaVu Sans Mono","labelFontSize":26.5,"labelColor":"#000000","labelAlign":"left","labelBaseline":"top","labelPadding":16,"labelOverlap":false,"labelFlush":false,"labelBound":false}},
"x2":{"field":"hi"},
"fill":{"field":"lo","type":"quantitative","legend":null,"scale":{"type":"linear","interpolate":"rgb","clamp":true,"domain":[-0.06574,-0.02371,-0.0237,0.01484,0.01833,0.01834,0.05688,0.06037,0.06038,0.10242,0.13745,0.14445,0.14446,0.183,0.18649,0.1865,0.22504,0.22853,0.22854,0.2697],"range":["#0000ff","#0000ff","#0050ff","#008cff","#008cff","#00ffd8","#00ff78","#00ff78","#00ff50","#00ff00","#20ff00","#20ff00","#70ff00","#d8ff00","#d8ff00","#ff8c00","#ff5000","#ff5000","#ff0000","#ff0000"]}},
"stroke":{"field":"lo","type":"quantitative","legend":null,"scale":{"type":"linear","interpolate":"rgb","clamp":true,"domain":[-0.06574,-0.02371,-0.0237,0.01484,0.01833,0.01834,0.05688,0.06037,0.06038,0.10242,0.13745,0.14445,0.14446,0.183,0.18649,0.1865,0.22504,0.22853,0.22854,0.2697],"range":["#0000ff","#0000ff","#0050ff","#008cff","#008cff","#00ffd8","#00ff78","#00ff78","#00ff50","#00ff00","#20ff00","#20ff00","#70ff00","#d8ff00","#d8ff00","#ff8c00","#ff5000","#ff5000","#ff0000","#ff0000"]}}
}},
{"width":1686,"height":995,
"layer":[
{"data":{"name":"bands"},"mark":{"type":"line","stroke":null,"strokeWidth":0,"clip":false},
"encoding":{
"x":{"field":"x","type":"quantitative","scale":{"domain":[-22.255,86.19],"nice":false,"zero":false,"round":true},"axis":null},
"y":{"field":"y","type":"quantitative","scale":{"domain":[0,64],"reverse":true,"nice":false,"zero":false,"round":true},"axis":null},
"order":{"field":"o","type":"quantitative"},
"fill":{"field":"r","type":"nominal","legend":null,"scale":{"domain":["blue","cyan","spring","lime","yellow","orange","red","navy"],"range":["#008cff","#00ffd8","#00ff50","#50ff00","#d8ff00","#ff8c00","#ff0000","#0000ff"]}}
}},
{"data":{"name":"blobs"},"mark":{"type":"line","stroke":null,"strokeWidth":0,"interpolate":"cardinal-closed"},
"encoding":{
"x":{"field":"x","type":"quantitative"},
"y":{"field":"y","type":"quantitative"},
"order":{"field":"o","type":"quantitative"},
"detail":{"field":"r","type":"nominal"},
"fill":{"datum":"navy","type":"nominal"}
}},
{"data":{"name":"diag"},"mark":{"type":"rule","stroke":"#000000","strokeWidth":0.75},
"encoding":{
"x":{"field":"a","type":"quantitative"},
"y":{"field":"b","type":"quantitative"},
"x2":{"field":"c"},
"y2":{"field":"d"}
}},
{"data":{"name":"grid"},"mark":{"type":"rule","stroke":"#000000","strokeWidth":1},
"encoding":{
"x":{"field":"a","type":"quantitative"},
"y":{"field":"b","type":"quantitative"},
"x2":{"field":"c"},
"y2":{"field":"d"}
}}
]}
]}
